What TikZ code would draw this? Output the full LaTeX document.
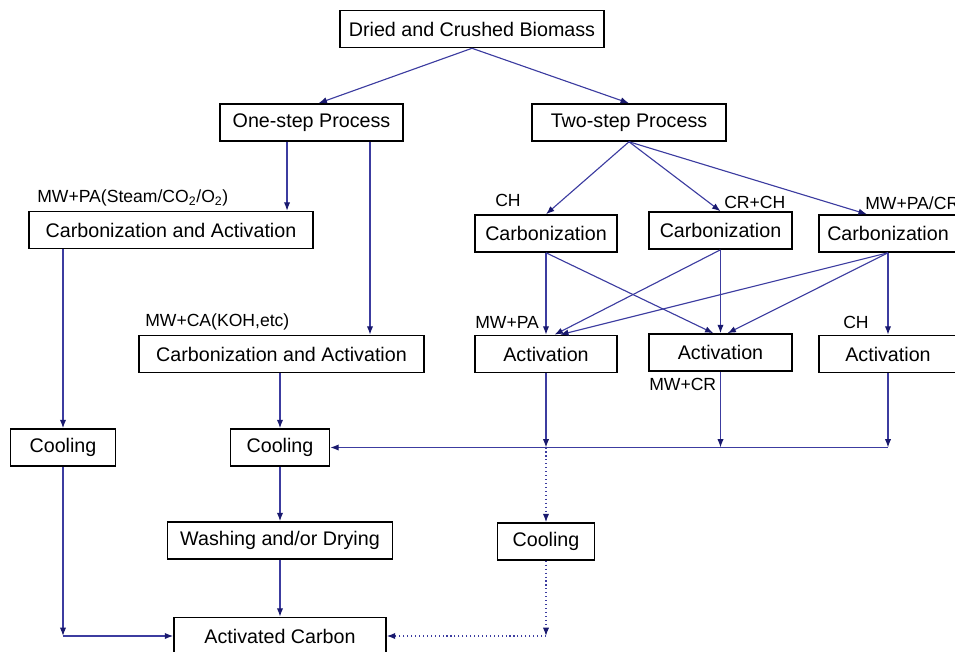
\documentclass[tikz,border=0pt]{standalone}
\usepackage{fontspec}
\setmainfont{Liberation Sans}
\usepackage{tikz}
\usetikzlibrary{shapes,arrows.meta,positioning}
\definecolor{linkblue}{RGB}{60,60,160}
\definecolor{tipblue}{RGB}{25,25,110}
\tikzstyle{box} = [rectangle, draw, line width=1.1pt, inner sep=0pt, minimum height=0.925cm, font=\fontsize{14}{16}\selectfont]
\tikzstyle{tag} = [inner sep=0pt, anchor=west, font=\fontsize{12.5}{14}\selectfont]
\tikzstyle{line} = [draw, linkblue, line width=0.8pt, -{Latex[length=6pt,width=4.5pt,color=tipblue]}]
\tikzstyle{dline} = [line, dotted]

\begin{document}
\begin{tikzpicture}[x=0.025cm, y=-0.025cm]
			\useasboundingbox (0,0) rectangle (955,652);
			\node [box, minimum width=6.6cm] (bio) at (472,29) {Dried and Crushed Biomass};
			\node [box, minimum width=4.575cm] (one) at (311.5,122.5) {One-step Process};
			\node [box, minimum width=4.85cm] (two) at (629,122.5) {Two-step Process};
			\node [box, minimum width=7.1cm] (ca1) at (171,230) {Carbonization and Activation};
			\node [box, minimum width=7.125cm] (ca2) at (281.5,354) {Carbonization and Activation};
			\node [box, minimum width=3.55cm] (carb1) at (546,233.5) {Carbonization};
			\node [box, minimum width=3.575cm] (carb2) at (720.5,230.5) {Carbonization};
			\node [box, minimum width=3.45cm] (carb3) at (888,233.5) {Carbonization};
			\node [box, minimum width=3.55cm] (act1) at (546,354) {Activation};
			\node [box, minimum width=3.575cm] (act2) at (720.5,352.5) {Activation};
			\node [box, minimum width=3.45cm] (act3) at (888,354) {Activation};
			\node [box, minimum width=2.625cm] (cool1) at (63,447.5) {Cooling};
			\node [box, minimum width=2.475cm] (cool2) at (280,447.5) {Cooling};
			\node [box, minimum width=5.625cm] (wash) at (280,540.5) {Washing and/or Drying};
			\node [box, minimum width=2.425cm] (cool3) at (546,541.5) {Cooling};
			\node [box, minimum width=5.3cm] (ac) at (280,636) {Activated Carbon};
			
			\node [tag] (t1) at (37,198) {MW+PA(Steam/CO\textsubscript{2}/O\textsubscript{2})};
			\node [tag] (t2) at (145,322) {MW+CA(KOH,etc)};
			\node [tag] (t3) at (495,200) {CH};
			\node [tag] (t4) at (724,202) {CR+CH};
			\node [tag] (t5) at (865,203) {MW+PA/CR};
			\node [tag] (t6) at (475,322) {MW+PA};
			\node [tag] (t7) at (649,384) {MW+CR};
			\node [tag] (t8) at (843,322) {CH};
			
			\path [line] (bio.south) -- ([xshift=5pt]one.north);
			\path [line] (bio.south) -- (two.north);
			\path [line] ([xshift=-17.4pt]one.south) -- ([xshift=-17.4pt]one.south |- ca1.north);
			\path [line] ([xshift=41.6pt]one.south) -- ([xshift=41.6pt]one.south |- ca2.north);
			\path [line] (two.south) -- (carb1.north);
			\path [line] (two.south) -- (carb2.north);
			\path [line] (two.south) -- ([xshift=-15pt]carb3.north);
			
			\path [line] (carb1.south) -- (act1.north);
			\path [line] (carb1.south) -- ([xshift=-5pt]act2.north);
			\path [line] (carb2.south) -- ([xshift=6pt]act1.north);
			\path [line] (carb2.south) -- (act2.north);
			\path [line] (carb3.south) -- ([xshift=10pt]act1.north);
			\path [line] (carb3.south) -- ([xshift=5pt]act2.north);
			\path [line] (carb3.south) -- (act3.north);
			
			\path [line] (ca1.south -| cool1.north) -- (cool1.north);
			\path [line] (ca2.south -| cool2.north) -- (cool2.north);
			\coordinate (j1) at (act1.south |- cool2.east);
			\coordinate (j2) at (act2.south |- cool2.east);
			\coordinate (j3) at (act3.south |- cool2.east);
			\path [line] (act1.south) -- (j1);
			\path [line] (act2.south) -- (j2);
			\path [line] (act3.south) -- (j3);
			\path [line] (j3) -- (cool2.east);
			\path [dline] (j1) -- (cool3.north);
			\path [line] (cool2.south) -- (wash.north);
			\path [line] (wash.south) -- (ac.north);
			
			\coordinate (c1) at (cool1.south |- ac.west);
			\coordinate (c3) at (cool3.south |- ac.east);
			\path [line] (cool1.south) -- (c1);
			\path [line] (c1) -- (ac.west);
			\path [dline] (cool3.south) -- (c3);
			\path [dline] (c3) -- (ac.east);
		\end{tikzpicture}
\end{document}
